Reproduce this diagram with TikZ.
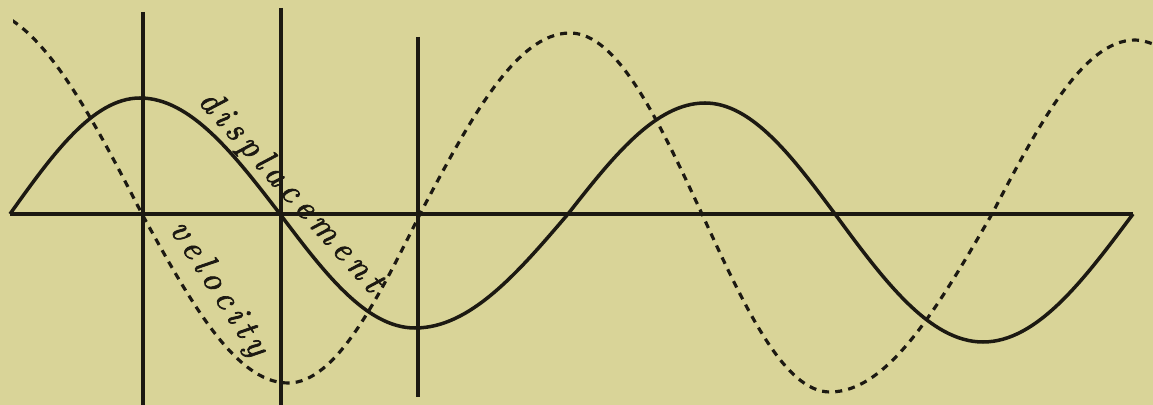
\documentclass[tikz,border=0pt]{standalone}
\usepackage{fontspec}
\usepackage{xcolor}
\usepackage{tikz}

\definecolor{paper}{RGB}{217,212,152}
\definecolor{ink}{RGB}{28,25,18}
\newfontface\labelface[FakeBold=2]{lmroman10-italic.otf}

% letter-spaced label text
\newcommand\spacedword[2]{\def\wordgap{#1}\spacedloop#2\relax}
\def\spacedloop#1{\ifx#1\relax\unkern\else#1\kern\wordgap\expandafter\spacedloop\fi}

\begin{document}
\begin{tikzpicture}[x=0.02cm, y=0.02cm,
    axisline/.style={draw=ink, line width=1.8pt},
    dispcurve/.style={draw=ink, line width=2pt},
    velcurve/.style={draw=ink, line width=1.8pt, dash pattern=on 4pt off 3.5pt},
    curvelabel/.style={font=\labelface\fontsize{20}{24}\selectfont, text=ink, inner sep=0pt}
]
% paper
\fill[paper] (0,-191) rectangle (1153,214);
\useasboundingbox (0,-191) rectangle (1153,214);
% axis and ordinates
\draw[axisline] (10,0) -- (1133,0);
\draw[axisline] (143,202) -- (143,-191);
\draw[axisline] (281,206) -- (281,-191);
\draw[axisline] (418,177) -- (418,-183);
% displacement
\draw[dispcurve] (10,0) sin (140,116) cos (280,0) sin (415,-114) cos (568,0)
    sin (705,111) cos (835,0) sin (983,-128) cos (1133,0);
% velocity
\begin{scope}
\clip (13,-191) rectangle (1153,214);
\draw[velcurve] (-25,206) cos (142,0) sin (288,-169) cos (420,0) sin (570,181)
    cos (702,0) sin (830,-178) cos (992,0) sin (1135,174) cos (1153,170);
\end{scope}
% labels
\node[curvelabel, rotate=-48] (displabel) at (290,22) {\spacedword{.16em}{displacement}};
\node[curvelabel, rotate=-57] (vellabel) at (218,-75) {\spacedword{.16em}{velocity}};
\end{tikzpicture}
\end{document}
